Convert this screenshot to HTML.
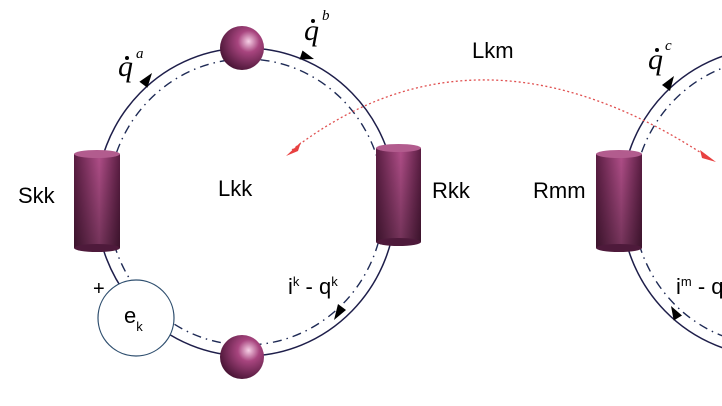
<!DOCTYPE html>
<html><head><style>body{margin:0;background:#fff}svg{display:block}</style></head><body>
<svg width="722" height="406" viewBox="0 0 722 406" xmlns="http://www.w3.org/2000/svg">
<defs>
<linearGradient id="cyl" x1="0" x2="1" y1="0" y2="0">
<stop offset="0" stop-color="#5a1d42"/><stop offset="0.55" stop-color="#b04e88"/><stop offset="1" stop-color="#5a1d42"/></linearGradient>
<linearGradient id="cylv" x1="0" x2="0" y1="0" y2="1">
<stop offset="0" stop-color="#000" stop-opacity="0"/><stop offset="1" stop-color="#000" stop-opacity="0.35"/></linearGradient>
<radialGradient id="sph" cx="0.65" cy="0.35" r="0.7">
<stop offset="0" stop-color="#f6d0e6"/><stop offset="0.35" stop-color="#a8457f"/><stop offset="1" stop-color="#4a1536"/></radialGradient>
</defs>
<g fill="none">
<ellipse cx="246" cy="202" rx="150" ry="154" stroke="#1e1e4a" stroke-width="1.5"/>
<ellipse cx="246" cy="202" rx="138" ry="143" stroke="#1e2a55" stroke-width="1.4" stroke-dasharray="9,5,1.5,5"/>
<ellipse cx="771" cy="202" rx="150" ry="154" stroke="#1e1e4a" stroke-width="1.5"/>
<ellipse cx="771" cy="202" rx="138" ry="143" stroke="#1e2a55" stroke-width="1.4" stroke-dasharray="9,5,1.5,5"/>
<path d="M292 150 Q 480 5 712 160" stroke="#e05050" stroke-width="1.3" stroke-dasharray="2,2.5"/>
</g>
<polygon points="286,156 301,142 298,151" fill="#e84040"/>
<polygon points="716,162 700,150 702,158" fill="#e84040"/>
<!-- arrowheads -->
<polygon points="152,73 147.4,87.8 139.4,81.8" fill="#000"/>
<polygon points="314,59 299.5,59.5 302.5,50.5" fill="#000"/>
<polygon points="334,320 346,310 338,304" fill="#000"/>
<polygon points="674,76 670,91 662,85" fill="#000"/>
<polygon points="671,306 682,315.5 673.7,320.5" fill="#000"/>
<!-- cylinders -->
<g>
<rect x="74" y="154" width="46" height="94" fill="url(#cyl)"/><rect x="74" y="154" width="46" height="94" fill="url(#cylv)"/>
<ellipse cx="97" cy="248" rx="23" ry="4" fill="#4e1a3b"/><ellipse cx="97" cy="154" rx="23" ry="4" fill="#b25c8e"/>
<rect x="376" y="148" width="45" height="94" fill="url(#cyl)"/><rect x="376" y="148" width="45" height="94" fill="url(#cylv)"/>
<ellipse cx="398.5" cy="242" rx="22.5" ry="4" fill="#4e1a3b"/><ellipse cx="398.5" cy="148" rx="22.5" ry="4" fill="#b25c8e"/>
<rect x="596" y="154" width="46" height="94" fill="url(#cyl)"/><rect x="596" y="154" width="46" height="94" fill="url(#cylv)"/>
<ellipse cx="619" cy="248" rx="23" ry="4" fill="#4e1a3b"/><ellipse cx="619" cy="154" rx="23" ry="4" fill="#b25c8e"/>
</g>
<circle cx="242" cy="48" r="22" fill="url(#sph)"/>
<circle cx="242" cy="357" r="22" fill="url(#sph)"/>
<circle cx="136" cy="318" r="38" fill="#fff" stroke="#2f4f6f" stroke-width="1.2"/>
<g font-family="Liberation Sans, sans-serif" font-size="22" fill="#000">
<text x="18" y="203">Skk</text>
<text x="218" y="196">Lkk</text>
<text x="432" y="198">Rkk</text>
<text x="533" y="198">Rmm</text>
<text x="472" y="58">Lkm</text>
<text x="93" y="295" font-size="20">+</text>
<text x="124" y="323">e<tspan font-size="13" dy="8">k</tspan></text>
<text x="288" y="294">i<tspan font-size="13" dy="-8">k</tspan><tspan dy="8"> - q</tspan><tspan font-size="13" dy="-8">k</tspan></text>
<text x="676" y="294">i<tspan font-size="13" dy="-8">m</tspan><tspan dy="8"> - q</tspan></text>
</g>
<g font-family="Liberation Serif, serif" font-style="italic" font-size="30" fill="#000">
<text x="118" y="76">q</text><text x="136" y="58" font-size="15">a</text><circle cx="127" cy="58" r="2"/>
<text x="304" y="40">q</text><text x="322" y="20" font-size="15">b</text><circle cx="313" cy="21" r="2"/>
<text x="648" y="69">q</text><text x="665" y="50" font-size="15">c</text><circle cx="657" cy="50" r="2"/>
</g>
</svg>
</body></html>
